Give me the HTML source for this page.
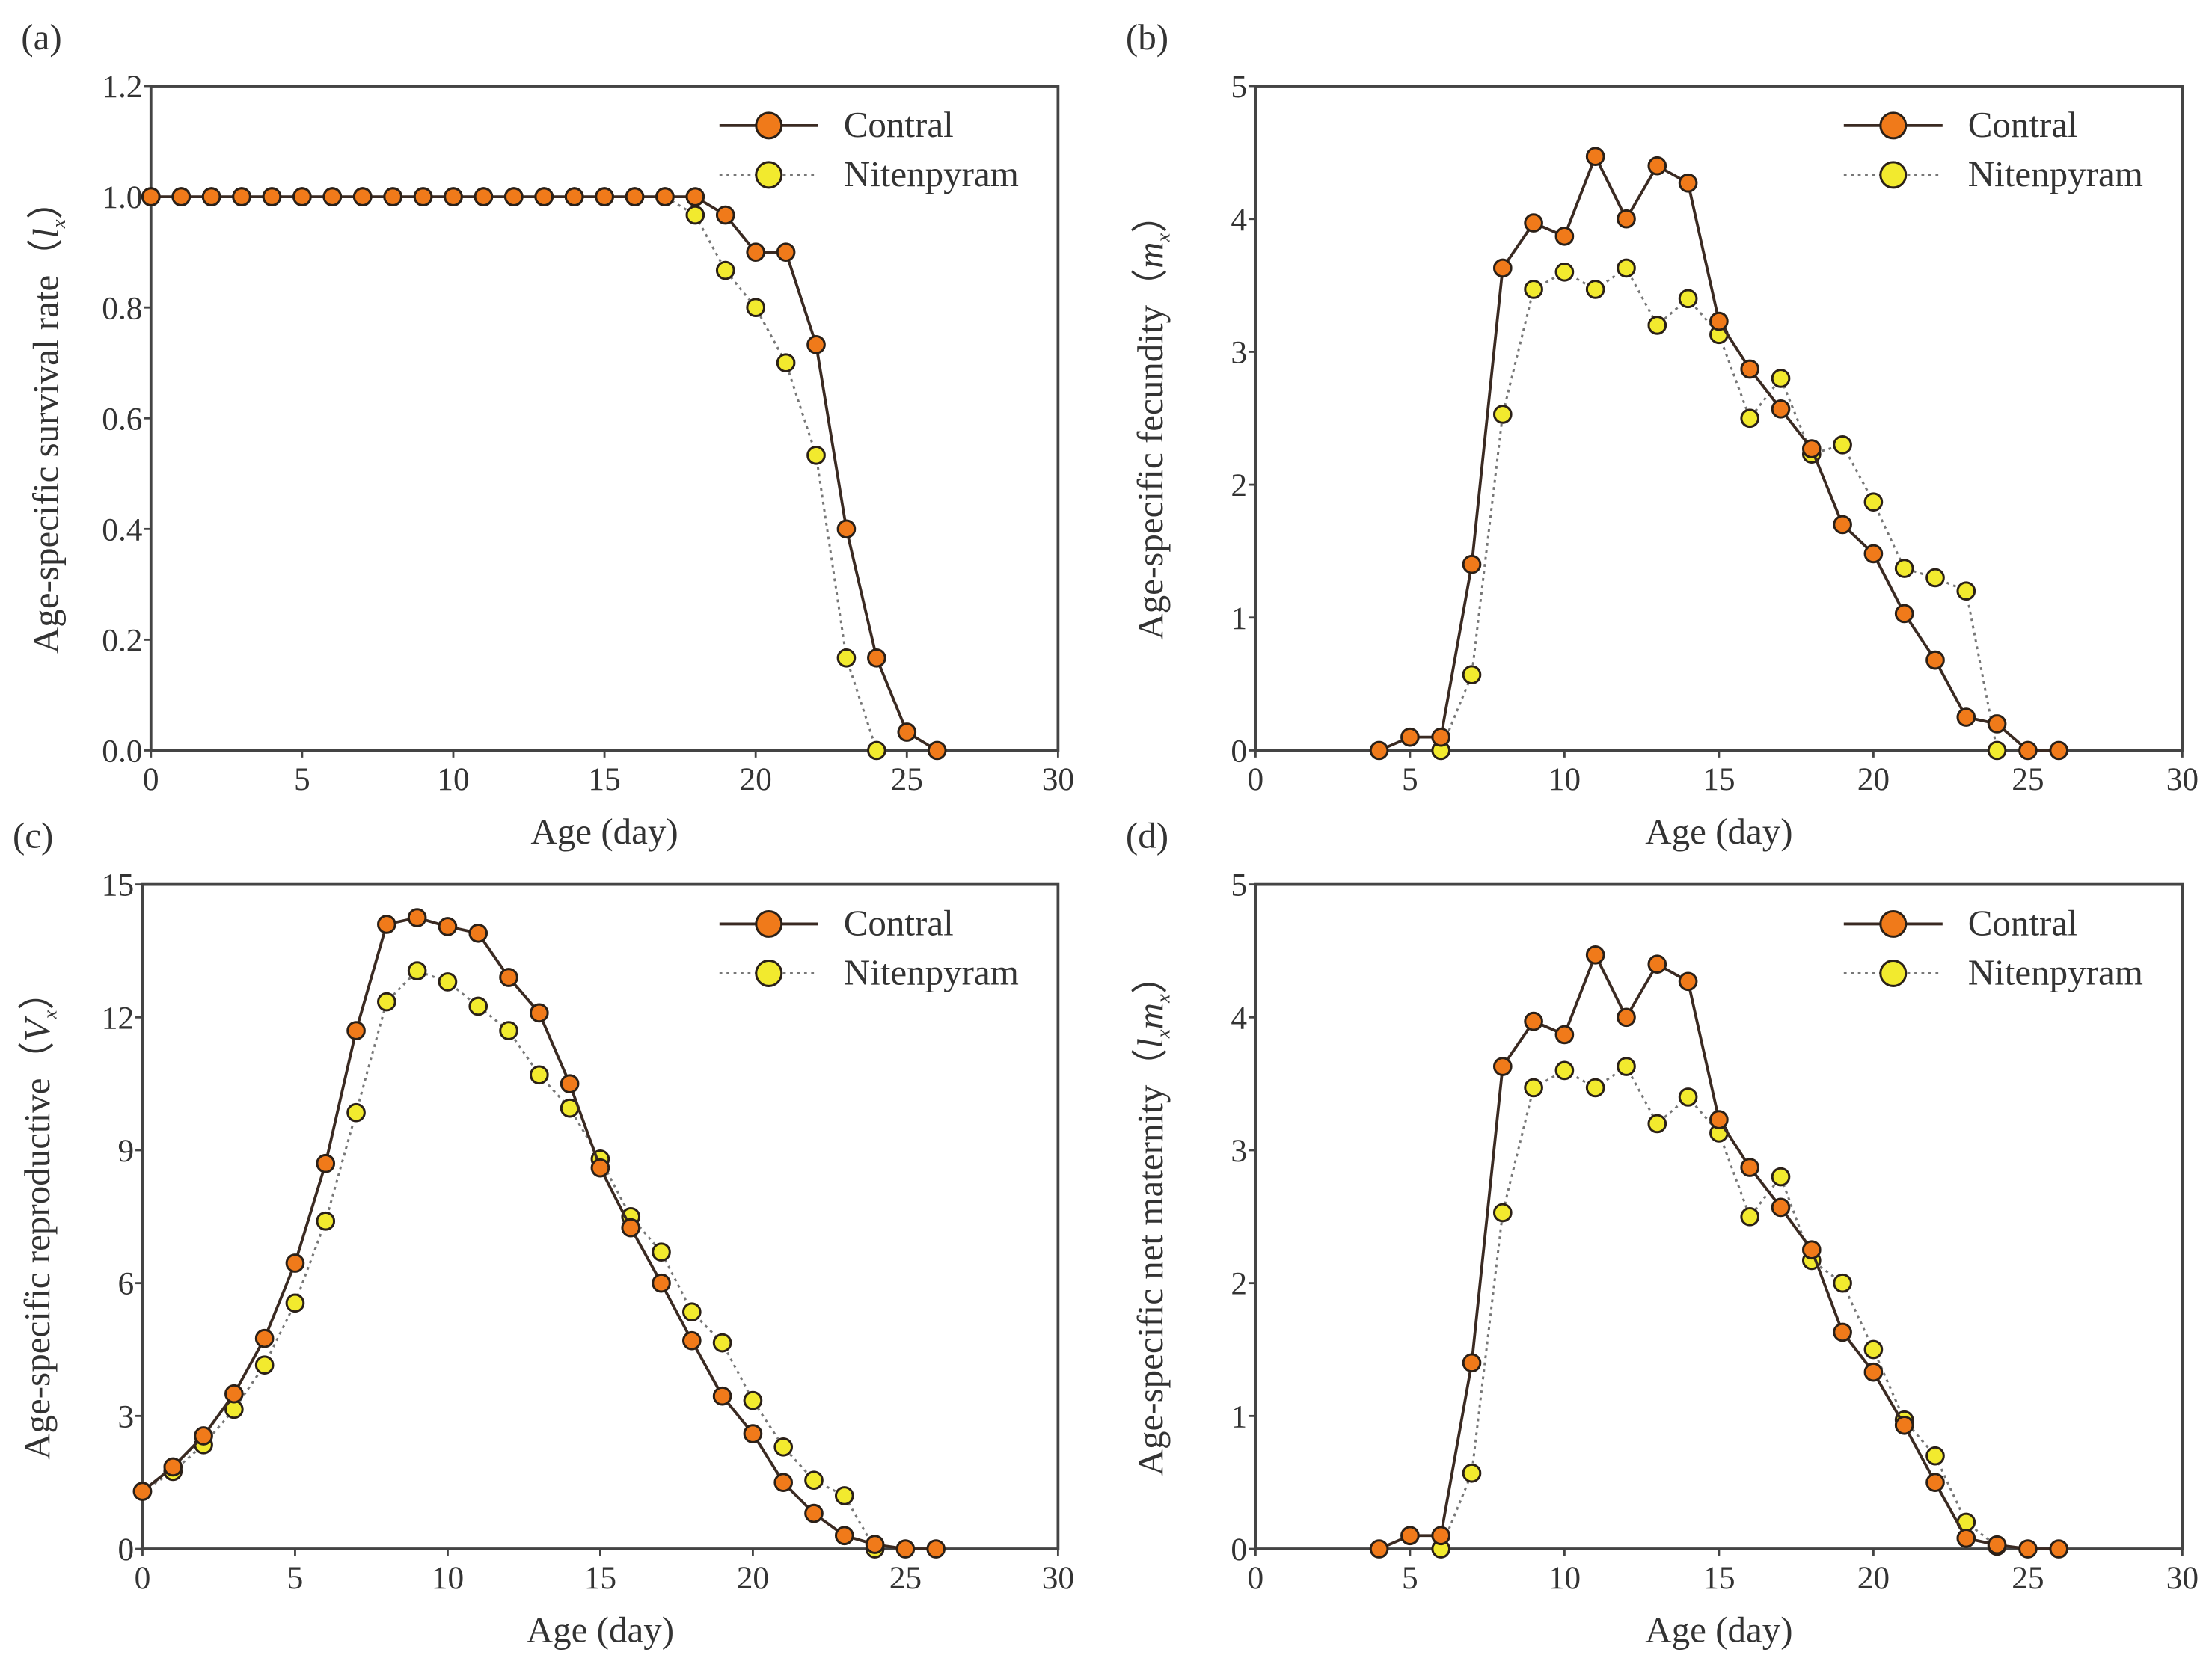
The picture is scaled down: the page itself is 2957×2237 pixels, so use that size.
<!DOCTYPE html>
<html><head><meta charset="utf-8"><style>
html,body{margin:0;padding:0;background:#fff;}
svg{display:block;}
svg text{font-family:"Liberation Serif","DejaVu Serif",serif;fill:#333;}
</style></head><body>
<svg id="chart" xmlns="http://www.w3.org/2000/svg" width="2957" height="2237" viewBox="0 0 1568 1186" preserveAspectRatio="none" font-family="Liberation Serif, DejaVu Serif, serif"></svg>
<script>
const xTicks=[0,5,10,15,20,25,30];
const aTicks=[0,0.2,0.4,0.6,0.8,1.0,1.2];
const aTickLabels=["0.0","0.2","0.4","0.6","0.8","1.0","1.2"];
const bTicks=[0,1,2,3,4,5];
const cTicks=[0,3,6,9,12,15];
const aCtrlAges=[0,1,2,3,4,5,6,7,8,9,10,11,12,13,14,15,16,17,18,19,20,21,22,23,24,25,26];
const aCtrl=[1,1,1,1,1,1,1,1,1,1,1,1,1,1,1,1,1,1,1.0,0.967,0.9,0.9,0.733,0.4,0.167,0.033,0];
const aNitAges=[0,1,2,3,4,5,6,7,8,9,10,11,12,13,14,15,16,17,18,19,20,21,22,23,24];
const aNit=[1,1,1,1,1,1,1,1,1,1,1,1,1,1,1,1,1,1,0.967,0.867,0.8,0.7,0.533,0.167,0];
const bCtrlAges=[4,5,6,7,8,9,10,11,12,13,14,15,16,17,18,19,20,21,22,23,24,25,26];
const bCtrl=[0,0.1,0.1,1.4,3.63,3.97,3.87,4.47,4.0,4.4,4.27,3.23,2.87,2.57,2.27,1.7,1.48,1.03,0.68,0.25,0.2,0,0];
const bNitAges=[6,7,8,9,10,11,12,13,14,15,16,17,18,19,20,21,22,23,24];
const bNit=[0,0.57,2.53,3.47,3.6,3.47,3.63,3.2,3.4,3.13,2.5,2.8,2.23,2.3,1.87,1.37,1.3,1.2,0];
const cCtrlAges=aCtrlAges;
const cCtrl=[1.3,1.85,2.55,3.5,4.75,6.45,8.7,11.7,14.1,14.25,14.05,13.9,12.9,12.1,10.5,8.6,7.25,6.0,4.7,3.45,2.6,1.5,0.8,0.3,0.1,0,0];
const cNitAges=aNitAges;
const cNit=[1.3,1.75,2.35,3.15,4.15,5.55,7.4,9.85,12.35,13.05,12.8,12.25,11.7,10.7,9.95,8.8,7.5,6.7,5.35,4.65,3.35,2.3,1.55,1.2,0];
const dCtrlAges=bCtrlAges;
const dCtrl=[0,0.1,0.1,1.4,3.63,3.97,3.87,4.47,4.0,4.4,4.27,3.23,2.87,2.57,2.25,1.63,1.33,0.93,0.5,0.08,0.03,0,0];
const dNitAges=bNitAges;
const dNit=[0,0.57,2.53,3.47,3.6,3.47,3.63,3.2,3.4,3.13,2.5,2.8,2.17,2.0,1.5,0.97,0.7,0.2,0.02];

const NS="http://www.w3.org/2000/svg";
const svg=document.getElementById('chart');
function mk(tag,attrs,parent){const e=document.createElementNS(NS,tag);for(const k in attrs)e.setAttribute(k,attrs[k]);(parent||svg).appendChild(e);return e;}

function panel(o){
  const g=mk('g',{});
  
  
  const X=v=>o.x0+(o.x1-o.x0)*v/30;
  const Y=v=>o.y0+(o.y1-o.y0)*v/o.ymax;
  const frame=mk('rect',{x:o.x0,y:o.y1,width:o.x1-o.x0,height:o.y0-o.y1,fill:'none',stroke:'#444','stroke-width':2},g);
  
  
  xTicks.forEach(t=>{
    mk('line',{x1:X(t),x2:X(t),y1:o.y0,y2:o.y0+5,stroke:'#444','stroke-width':1.5},g);
    const tx=mk('text',{x:X(t),y:o.y0+28,'text-anchor':'middle','font-size':23},g);
    tx.textContent=t;
    
    
  });
  o.yt.forEach((t,i)=>{
    mk('line',{x1:o.x0-5,x2:o.x0,y1:Y(t),y2:Y(t),stroke:'#444','stroke-width':1.5},g);
    const tx=mk('text',{x:o.x0-6,y:Y(t)+8,'text-anchor':'end','font-size':23},g);
    tx.textContent=o.yl?o.yl[i]:t;
    
    
  });
  const xt=mk('text',{x:(o.x0+o.x1)/2,y:o.y0+66,'text-anchor':'middle','font-size':26},g);
  xt.textContent='Age (day)';
  
  
  const yt=mk('text',{x:0,y:0,'text-anchor':'middle','font-size':26,transform:`translate(${o.x0-66},${(o.y0+o.y1)/2}) rotate(-90)`},g);
  yt.innerHTML=o.title;
  
  
  const pl=mk('text',{x:o.x0-92,y:o.y1-26,'font-size':26},g);
  pl.textContent='('+o.id+')';
  
  
  function series(ages,vals,fill,dash,name){
    const sg=mk('g',{},g);
    
    
    const pts=ages.map((a,i)=>X(a)+','+Y(vals[i])).join(' ');
    const attrs={points:pts,fill:'none',stroke:dash?'#777':'#3a2a22','stroke-width':dash?1.6:2};
    if(dash)attrs['stroke-dasharray']='2,3';
    mk('polyline',attrs,sg);
    ages.forEach((a,i)=>{
      const c=mk('circle',{cx:X(a),cy:Y(vals[i]),r:6,fill:fill,stroke:'#2a2018','stroke-width':1.6},sg);
      
      
    });
  }
  series(o.nitA,o.nit,'#f2ea2e',true,'nitenpyram-series');
  series(o.ctrlA,o.ctrl,'#f07a1a',false,'control-series');
  const lg=mk('g',{},g);
  
  
  const lx=o.x1-240, ly=o.y1+28;
  mk('line',{x1:lx,x2:lx+70,y1:ly,y2:ly,stroke:'#3a2a22','stroke-width':2},lg);
  mk('circle',{cx:lx+35,cy:ly,r:9,fill:'#f07a1a',stroke:'#2a2018','stroke-width':1.6},lg);
  const t1=mk('text',{x:lx+88,y:ly+8,'font-size':26},lg);t1.textContent='Contral';
  
  
  mk('line',{x1:lx,x2:lx+70,y1:ly+35,y2:ly+35,stroke:'#777','stroke-width':1.6,'stroke-dasharray':'2,3'},lg);
  mk('circle',{cx:lx+35,cy:ly+35,r:9,fill:'#f2ea2e',stroke:'#2a2018','stroke-width':1.6},lg);
  const t2=mk('text',{x:lx+88,y:ly+43,'font-size':26},lg);t2.textContent='Nitenpyram';
  
  
}
panel({id:'a',x0:107,x1:750,y0:532,y1:61,ymax:1.2,yt:aTicks,yl:aTickLabels,title:'Age-specific survival rate（<tspan font-style="italic">l</tspan><tspan font-size="14" font-style="italic" dy="5">x</tspan><tspan dy="-5">）</tspan>',ctrlA:aCtrlAges,ctrl:aCtrl,nitA:aNitAges,nit:aNit});
panel({id:'b',x0:890,x1:1547,y0:532,y1:61,ymax:5,yt:bTicks,title:'Age-specific fecundity（<tspan font-style="italic">m</tspan><tspan font-size="14" font-style="italic" dy="5">x</tspan><tspan dy="-5">）</tspan>',ctrlA:bCtrlAges,ctrl:bCtrl,nitA:bNitAges,nit:bNit});
panel({id:'c',x0:101,x1:750,y0:1098,y1:627,ymax:15,yt:cTicks,title:'Age-specific reproductive（<tspan font-style="italic">V</tspan><tspan font-size="14" font-style="italic" dy="5">x</tspan><tspan dy="-5">）</tspan>',ctrlA:cCtrlAges,ctrl:cCtrl,nitA:cNitAges,nit:cNit});
panel({id:'d',x0:890,x1:1547,y0:1098,y1:627,ymax:5,yt:bTicks,title:'Age-specific net maternity（<tspan font-style="italic">l</tspan><tspan font-size="14" font-style="italic" dy="5">x</tspan><tspan dy="-5" font-style="italic">m</tspan><tspan font-size="14" font-style="italic" dy="5">x</tspan><tspan dy="-5">）</tspan>',ctrlA:dCtrlAges,ctrl:dCtrl,nitA:dNitAges,nit:dNit});
</script>
</body></html>
